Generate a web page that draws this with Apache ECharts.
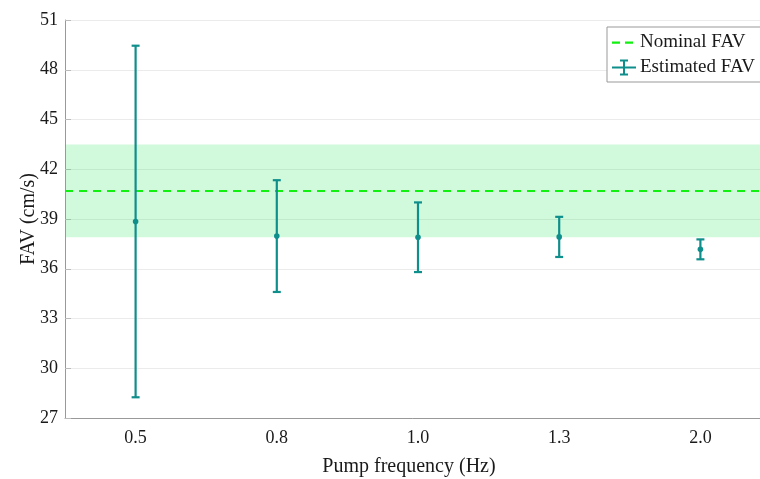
<!DOCTYPE html>
<html>
<head>
<meta charset="utf-8">
<script src="https://cdn.jsdelivr.net/npm/echarts@6/dist/echarts.min.js"></script>
<style>
  html, body { margin: 0; padding: 0; background: #fff; overflow: hidden; }
  #main { width: 760px; height: 479px; }
</style>
</head>
<body>
<div id="main"></div>
<script>
// pump frequencies (Hz)
var categories = ['0.5', '0.8', '1.0', '1.3', '2.0'];
// estimated FAV mean and half-width of error bar (cm/s)
var meanFAV = [38.85, 37.97, 37.9, 37.92, 37.17];
var errFAV = [10.6, 3.37, 2.1, 1.21, 0.6];
// nominal value and its tolerance band
var nominalFAV = 40.7;
var bandFAV = [37.9, 43.5];
// y axis range
var yMin = 27, yMax = 51, yStep = 3;

var font = 'Liberation Serif';
var teal = '#0f8f8c';
var green = '#11f011';

var errData = meanFAV.map(function(m, i) {
	return [i, m, m - errFAV[i], m + errFAV[i]];
});

var myChart = echarts.init(document.getElementById('main'));

var option = {
	backgroundColor: '#fff',
	animation: false,
	textStyle: { fontFamily: font },
	grid: { left: 65, right: -11, top: 20, bottom: 61, outerBoundsMode: 'none' },
	legend: {
		orient: 'vertical',
		left: 607,
		top: 27,
		padding: [6, 8, 5, 5],
		itemGap: 6,
		itemWidth: 24,
		itemHeight: 16,
		backgroundColor: '#fff',
		borderColor: '#999',
		borderWidth: 1,
		textStyle: { fontFamily: font, fontSize: 19, color: '#1a1a1a', padding: [0, 0, 0, -1] },
		data: [
			{ name: 'Nominal FAV', icon: 'path://M0,0 M24,16 M0,7h8v2.2h-8z M13,7h8v2.2h-8z', itemStyle: { color: green } },
			{ name: 'Estimated FAV', icon: 'path://M0,7h24v2h-24z M11,0h2v16h-2z M8,0h8v2h-8z M8,14h8v2h-8z', itemStyle: { color: teal } }
		]
	},
	xAxis: {
		type: 'category',
		data: categories,
		boundaryGap: true,
		name: 'Pump frequency (Hz)',
		nameLocation: 'middle',
		nameMoveOverlap: false,
		nameGap: 39,
		nameTextStyle: { fontFamily: font, fontSize: 20, color: '#1a1a1a', padding: [0, 18, 0, 0] },
		axisLine: { lineStyle: { color: '#999', width: 1 } },
		axisTick: { inside: true, alignWithLabel: true, length: 6, lineStyle: { color: '#bbb' } },
		axisLabel: { fontFamily: font, fontSize: 18, color: '#1a1a1a', margin: 11 },
		splitLine: { show: false }
	},
	yAxis: {
		type: 'value',
		min: yMin,
		max: yMax,
		interval: yStep,
		name: 'FAV (cm/s)',
		nameLocation: 'middle',
		nameMoveOverlap: false,
		nameGap: 26,
		nameTextStyle: { fontFamily: font, fontSize: 20, color: '#1a1a1a' },
		axisLine: { show: true, lineStyle: { color: '#999', width: 1 } },
		axisTick: { show: true, inside: true, length: 6, lineStyle: { color: '#bbb' } },
		axisLabel: { fontFamily: font, fontSize: 18, color: '#1a1a1a', margin: 7 },
		splitLine: { show: true, lineStyle: { color: '#ebebeb', width: 1 } }
	},
	series: [{
		name: 'Nominal FAV',
		type: 'line',
		symbol: 'none',
		symbolKeepAspect: true,
		data: [],
		itemStyle: { color: green },
		lineStyle: { color: green, type: [8, 6], width: 2 },
		markArea: {
			silent: true,
			itemStyle: { color: 'rgba(40,228,90,0.21)' },
			data: [[{ yAxis: bandFAV[0] }, { yAxis: bandFAV[1] }]]
		},
		markLine: {
			silent: true,
			symbol: ['none', 'none'],
			label: { show: false },
			lineStyle: { color: green, type: [8, 6], width: 2 },
			data: [{ yAxis: nominalFAV }]
		},
		z: 3
	}, {
		name: 'Estimated FAV',
		type: 'custom',
		z: 5,
		itemStyle: { color: teal },
		encode: { x: 0, y: [1, 2, 3] },
		data: errData,
		renderItem: function(params, api) {
			var i = api.value(0);
			var mid = api.coord([i, api.value(1)]);
			var lo = api.coord([i, api.value(2)]);
			var hi = api.coord([i, api.value(3)]);
			var hw = 4;
			var st = { stroke: teal, lineWidth: 2.2 };
			return {
				type: 'group',
				children: [
					{ type: 'line', shape: { x1: lo[0], y1: lo[1], x2: hi[0], y2: hi[1] }, style: st },
					{ type: 'line', shape: { x1: hi[0] - hw, y1: hi[1], x2: hi[0] + hw, y2: hi[1] }, style: st },
					{ type: 'line', shape: { x1: lo[0] - hw, y1: lo[1], x2: lo[0] + hw, y2: lo[1] }, style: st },
					{ type: 'circle', shape: { cx: mid[0], cy: mid[1], r: 2.8 }, style: { fill: teal } }
				]
			};
		}
	}]
};

myChart.setOption(option);
</script>
</body>
</html>
